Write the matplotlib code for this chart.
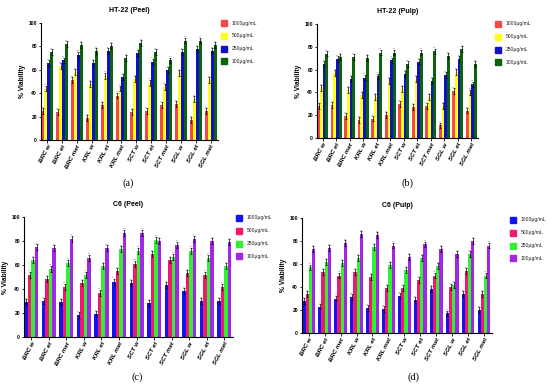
import matplotlib
matplotlib.use("Agg")
import matplotlib.pyplot as plt
import numpy as np

plt.rcParams["font.family"] = ["Liberation Sans", "DejaVu Sans"]

categories = ["BRC w", "BRC et", "BRC met", "KRL w", "KRL et", "KRL met",
              "SCT w", "SCT et", "SCT met", "SGL w", "SGL et", "SGL met"]
series_labels = ["1000μg/mL", "500μg/mL", "250μg/mL", "100μg/mL"]

# (a) HT-22 (Peel)
a_1000 = [25, 24, 51, 19, 30, 38, 24, 25, 30, 31, 17, 25]
a_500 = [44, 63, 58, 48, 55, 44, 52, 49, 45, 57, 35, 51]
a_250 = [66, 68, 73, 66, 76, 54, 74, 67, 60, 75, 78, 76]
a_100 = [75, 82, 81, 76, 80, 70, 83, 75, 68, 85, 85, 81]

# (b) HT-22 (Pulp)
b_1000 = [28, 29, 19, 16, 17, 20, 30, 27, 28, 11, 41, 24]
b_500 = [44, 57, 42, 38, 36, 50, 43, 52, 36, 28, 58, 40]
b_250 = [65, 69, 52, 53, 54, 68, 56, 67, 50, 55, 69, 47]
b_100 = [74, 71, 71, 70, 75, 75, 65, 75, 76, 72, 78, 65]

# (c) C6 (Peel)
c_1000 = [29, 30, 29, 18, 19, 46, 45, 28, 43, 38, 30, 30]
c_500 = [52, 48, 42, 45, 37, 55, 61, 69, 64, 53, 52, 42]
c_250 = [64, 57, 62, 52, 59, 73, 72, 81, 67, 72, 66, 59]
c_100 = [75, 74, 82, 66, 74, 87, 87, 80, 77, 82, 80, 79]

# (d) C6 (Pulp)
d_1000 = [28, 23, 30, 31, 22, 21, 32, 29, 38, 17, 34, 20]
d_500 = [34, 53, 50, 53, 49, 39, 39, 46, 50, 40, 54, 34]
d_250 = [57, 62, 61, 65, 75, 59, 55, 65, 58, 42, 69, 50]
d_100 = [73, 74, 78, 86, 85, 76, 66, 77, 73, 69, 80, 76]

err = 2.5

ht_colors = ["#F24A4A", "#FFFF1A", "#1010C8", "#0A640A"]
c6_colors = ["#1414F0", "#F0196E", "#33F033", "#A326E6"]

W, H = 550, 390
fig = plt.figure(figsize=(5.5, 3.9), dpi=100)


def px_axes(left, top, right, bottom):
    return fig.add_axes([left / W, 1 - bottom / H, (right - left) / W, (bottom - top) / H])


def panel(rect, title, data, colors, leg_x, leg_y, label, label_xy):
    ax = px_axes(*rect)
    x = np.arange(len(categories))
    bw = 0.2
    for i, (vals, col) in enumerate(zip(data, colors)):
        pos = x + (i - 1.5) * bw
        ax.bar(pos, vals, width=bw, color=col, edgecolor="none", linewidth=0,
               yerr=err, error_kw=dict(elinewidth=0.5, capsize=0.8, capthick=0.5,
                                       ecolor="black"))
        for p, v in zip(pos, vals):
            ax.text(p, v + err + 0.8, "***", ha="center", va="bottom",
                    fontsize=1.6, color="black")
    ax.set_xlim(-0.42, len(categories) - 0.5)
    ax.set_ylim(0, 100)
    ax.set_yticks([0, 20, 40, 60, 80, 100])
    ax.set_xticks(x)
    ax.set_xticklabels(categories, rotation=62, ha="right", rotation_mode="anchor",
                       fontsize=4.4, fontweight="bold", fontstyle="italic")
    for t in ax.get_yticklabels():
        t.set_fontsize(3.6)
        t.set_fontweight("bold")
    ax.tick_params(axis="both", length=1.8, width=0.6, pad=1)
    for s in ["top", "right"]:
        ax.spines[s].set_visible(False)
    for s in ["left", "bottom"]:
        ax.spines[s].set_linewidth(0.8)
    ax.set_ylabel("% Viability", fontsize=4.8, fontweight="bold", labelpad=2)
    ax.set_title(title, fontsize=5.0, fontweight="bold", pad=8)
    # legend
    for i, (lab, col) in enumerate(zip(series_labels, colors)):
        yy = leg_y + i * 12.8
        fig.patches.append(plt.Rectangle((leg_x / W, 1 - (yy + 3) / H), 6 / W, 6 / H,
                                         transform=fig.transFigure, color=col))
        fig.text((leg_x + 11) / W, 1 - yy / H, lab, fontsize=3.6, va="center",
                 ha="left", color="#222222")
    fig.text(label_xy[0] / W, 1 - label_xy[1] / H, label, fontsize=7.5,
             family="Liberation Serif", ha="center", va="center")


panel((41, 23, 218, 140), "HT-22 (Peel)", [a_1000, a_500, a_250, a_100], ht_colors,
      221, 23, "(a)", (128, 183))
panel((317, 24, 478, 138), "HT-22 (Pulp)", [b_1000, b_500, b_250, b_100], ht_colors,
      495, 24, "(b)", (408, 183))
panel((24, 217, 233, 337), "C6 (Peel)", [c_1000, c_500, c_250, c_100], c6_colors,
      236, 218, "(c)", (137, 377))
panel((302, 218, 492, 333), "C6 (Pulp)", [d_1000, d_500, d_250, d_100], c6_colors,
      510, 220, "(d)", (413, 377))

fig.savefig("out.png", dpi=100)
